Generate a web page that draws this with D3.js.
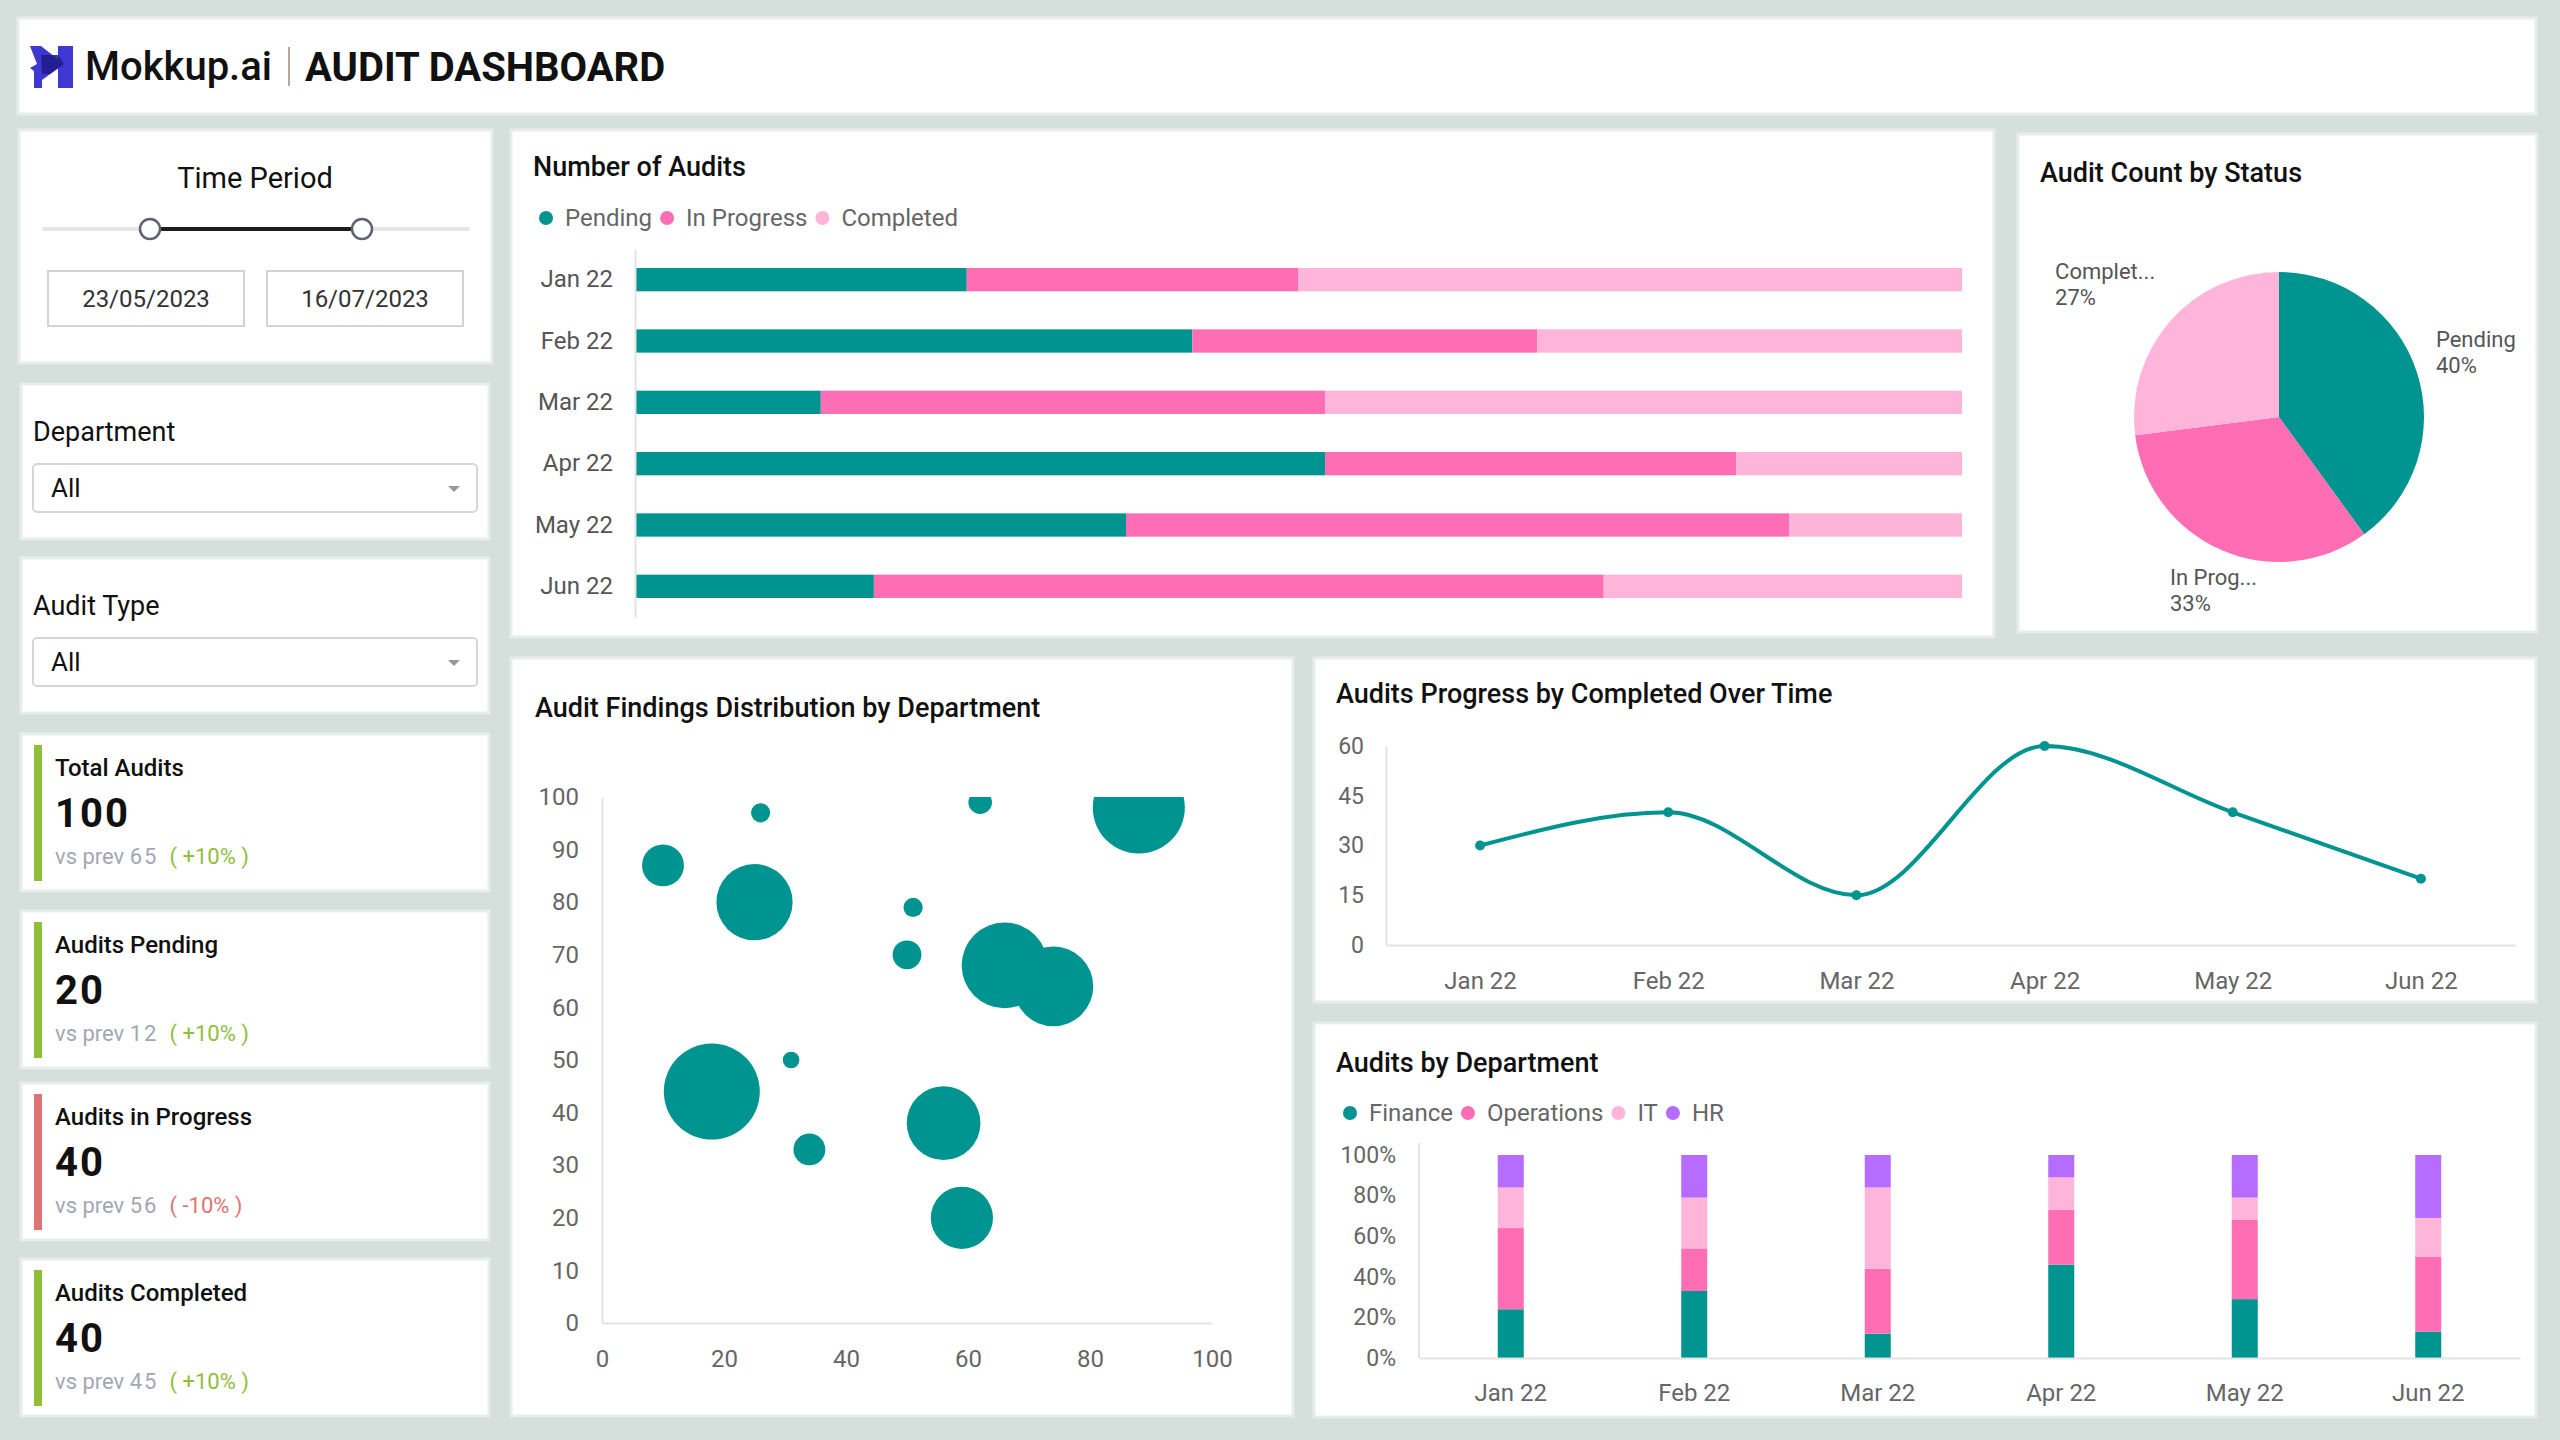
<!DOCTYPE html>
<html>
<head>
<meta charset="utf-8">
<script src="https://cdn.jsdelivr.net/npm/d3@7"></script>
<style>
  body { margin: 0; background: #d5e0dc; font-family: Roboto, sans-serif; }
  svg { display: block; }
</style>
</head>
<body>
<svg id="dash" width="2560" height="1440"></svg>
<script>
// ---- data ----
var months = ['Jan 22', 'Feb 22', 'Mar 22', 'Apr 22', 'May 22', 'Jun 22'];

var statusKeys = ['Pending', 'In Progress', 'Completed'];
var pendingShare = [25, 42, 14, 52, 37, 18];
var progressShare = [25, 26, 38, 31, 50, 55];
var completedShare = [50, 32, 48, 17, 13, 27];

var pieLabels = ['Pending', 'In Prog...', 'Complet...'];
var pieCounts = [40, 33, 27];

var findingsX = [10, 26, 25, 62, 88, 51, 50, 66, 74, 18, 31, 34, 56, 59];
var findingsY = [87, 97, 80, 99, 98, 79, 70, 68, 64, 44, 50, 33, 38, 20];
var findingsSize = [19, 4, 63, 6, 92, 4, 9, 80, 69, 100, 3, 11, 59, 42];

var completedTrend = [30, 40, 15, 60, 40, 20];

var deptKeys = ['Finance', 'Operations', 'IT', 'HR'];
var financeShare = [24, 33, 12, 46, 29, 13];
var operationsShare = [40, 21, 32, 27, 39, 37];
var itShare = [20, 25, 40, 16, 11, 19];
var hrShare = [16, 21, 16, 11, 21, 31];

var kpiTitles = ['Total Audits', 'Audits Pending', 'Audits in Progress', 'Audits Completed'];
var kpiValues = [100, 20, 40, 40];
var kpiPrev = [65, 12, 56, 45];
var kpiChange = ['+10%', '+10%', '-10%', '+10%'];

var periodStart = new Date(2023, 4, 23);
var periodEnd = new Date(2023, 6, 16);

// ---- colours ----
var teal = '#009490', hot = '#ff6db4', light = '#ffb5d9', purple = '#b56cff';
var green = '#8fbe3a', red = '#e07373';
var font = 'Roboto, sans-serif';

var svg = d3.select('#dash');
svg.append('rect').attr('width', 2560).attr('height', 1440).attr('fill', '#d5e0dc');

function panel(x, y, w, h) {
  svg.append('rect')
    .attr('x', x).attr('y', y).attr('width', w).attr('height', h)
    .attr('fill', '#fff').attr('stroke', '#e8ecea').attr('stroke-width', 3);
}
function title(x, y, t, size) {
  svg.append('text').attr('x', x).attr('y', y).text(t)
    .attr('font-family', font).attr('font-size', size || 27)
    .attr('font-weight', 500).attr('fill', '#111');
}
function styleAxis(g, size) {
  g.attr('font-size', size).attr('font-family', font);
  g.selectAll('.tick text').attr('fill', '#666');
  g.select('.domain').attr('stroke', '#e3e3e3').attr('stroke-width', 2);
}
function legend(x, y, keys, colors) {
  var cx = x;
  keys.forEach(function(k, i) {
    svg.append('circle').attr('cx', cx).attr('cy', y).attr('r', 7).attr('fill', colors[i]);
    var t = svg.append('text').attr('x', cx + 19).attr('y', y).attr('dy', '0.35em')
      .text(k).attr('font-family', font).attr('font-size', 24).attr('fill', '#666');
    cx = cx + 19 + t.node().getComputedTextLength() + 15;
  });
}

// ---- header ----
panel(18, 18, 2518, 96);
var logo = svg.append('g');
logo.append('path').attr('d', 'M30,46 L41,46 L64,64 L42,80 L42,88 L34,88 L34,71 L30,68 L37,64 Z').attr('fill', '#3e38d2');
logo.append('path').attr('d', 'M58,46 L73,46 L73,88 L58,88 Z').attr('fill', '#3e38d2');
logo.append('path').attr('d', 'M41,55 L58,55 L64,64 L50,74 L42,74 Z').attr('fill', '#1e1b86').attr('opacity', 0.85);
svg.append('text').attr('x', 85).attr('y', 80).text('Mokkup.ai')
  .attr('font-family', font).attr('font-size', 40).attr('font-weight', 500).attr('fill', '#111');
svg.append('line').attr('x1', 289).attr('x2', 289).attr('y1', 47).attr('y2', 86)
  .attr('stroke', '#a58a78').attr('stroke-width', 1.5);
svg.append('text').attr('x', 305).attr('y', 81).text('AUDIT DASHBOARD')
  .attr('font-family', font).attr('font-size', 40).attr('font-weight', 700).attr('fill', '#111');

// ---- time period ----
panel(19, 130, 473, 233);
svg.append('text').attr('x', 255).attr('y', 188).attr('text-anchor', 'middle').text('Time Period')
  .attr('font-family', font).attr('font-size', 29).attr('fill', '#111');
var timeX = d3.scaleTime().domain([new Date(2023, 3, 26), new Date(2023, 7, 12)]).range([44, 468]);
svg.append('line').attr('x1', timeX.range()[0]).attr('x2', timeX.range()[1]).attr('y1', 229).attr('y2', 229)
  .attr('stroke', '#e6e6e6').attr('stroke-width', 4).attr('stroke-linecap', 'round');
svg.append('line').attr('x1', timeX(periodStart)).attr('x2', timeX(periodEnd)).attr('y1', 229).attr('y2', 229)
  .attr('stroke', '#1d1d1d').attr('stroke-width', 4);
[periodStart, periodEnd].forEach(function(d, i) {
  svg.append('circle').attr('cx', timeX(d)).attr('cy', 229).attr('r', 10)
    .attr('fill', '#fff').attr('stroke', '#5b6272').attr('stroke-width', 2.5);
  var bx = i === 0 ? 48 : 267;
  svg.append('rect').attr('x', bx).attr('y', 271).attr('width', 196).attr('height', 55)
    .attr('fill', '#fff').attr('stroke', '#d3d3d3').attr('stroke-width', 2);
  svg.append('text').attr('x', bx + 98).attr('y', 307).attr('text-anchor', 'middle')
    .text(d3.timeFormat('%d/%m/%Y')(d))
    .attr('font-family', font).attr('font-size', 24).attr('fill', '#333');
});

// ---- filters ----
function dropdown(y0, label) {
  panel(21, y0, 468, 155);
  svg.append('text').attr('x', 33).attr('y', y0 + 57).text(label)
    .attr('font-family', font).attr('font-size', 27).attr('fill', '#111');
  svg.append('rect').attr('x', 33).attr('y', y0 + 80).attr('width', 444).attr('height', 48).attr('rx', 4)
    .attr('fill', '#fff').attr('stroke', '#d6d6d6').attr('stroke-width', 2);
  svg.append('text').attr('x', 51).attr('y', y0 + 113).text('All')
    .attr('font-family', font).attr('font-size', 26).attr('fill', '#111');
  svg.append('path').attr('d', 'M448,' + (y0 + 102) + ' L460,' + (y0 + 102) + ' L454,' + (y0 + 108) + ' Z')
    .attr('fill', '#999');
}
dropdown(384, 'Department');
dropdown(558, 'Audit Type');

// ---- KPI cards ----
var kpiTops = [734, 911, 1083, 1259];
kpiTitles.forEach(function(t, i) {
  var y0 = kpiTops[i];
  var up = kpiChange[i].charAt(0) === '+';
  panel(21, y0, 468, 157);
  svg.append('rect').attr('x', 34).attr('y', y0 + 11).attr('width', 8).attr('height', 136)
    .attr('fill', up ? green : red);
  svg.append('text').attr('x', 55).attr('y', y0 + 42).text(t)
    .attr('font-family', font).attr('font-size', 24).attr('font-weight', 500).attr('fill', '#111');
  svg.append('text').attr('x', 55).attr('y', y0 + 93).text(kpiValues[i])
    .attr('font-family', font).attr('font-size', 40).attr('font-weight', 700)
    .attr('letter-spacing', 2).attr('fill', '#111');
  var sub = svg.append('text').attr('x', 55).attr('y', y0 + 130)
    .attr('font-family', font).attr('font-size', 22);
  sub.append('tspan').attr('fill', '#a3a7b3').text('vs prev ');
  sub.append('tspan').attr('fill', '#a3a7b3').attr('letter-spacing', 2).text(kpiPrev[i]);
  sub.append('tspan').attr('dx', 11).attr('fill', up ? green : red).text('( ' + kpiChange[i] + ' )');
});

// ---- Number of Audits (100% stacked horizontal bars) ----
panel(511, 130, 1483, 507);
title(533, 176, 'Number of Audits');
legend(546, 218, statusKeys, [teal, hot, light]);

var statusRows = months.map(function(m, i) {
  return { month: m, 'Pending': pendingShare[i], 'In Progress': progressShare[i], 'Completed': completedShare[i] };
});
var stackH = d3.stack().keys(statusKeys).offset(d3.stackOffsetExpand)(statusRows);
var barX = d3.scaleLinear().domain([0, 1]).range([635, 1962]);
var barY = d3.scaleBand().domain(months).range([249, 617]).paddingInner(0.62).paddingOuter(0.31);
var statusColor = d3.scaleOrdinal().domain(statusKeys).range([teal, hot, light]);

svg.append('g').selectAll('g').data(stackH).enter().append('g')
  .attr('fill', function(d) { return statusColor(d.key); })
  .selectAll('rect').data(function(d) { return d; }).enter().append('rect')
  .attr('x', function(d) { return barX(d[0]); })
  .attr('width', function(d) { return barX(d[1]) - barX(d[0]); })
  .attr('y', function(d) { return barY(d.data.month); })
  .attr('height', barY.bandwidth());

var ga = svg.append('g').attr('transform', 'translate(635,0)')
  .call(d3.axisLeft(barY).tickSize(0).tickSizeOuter(0).tickPadding(22));
styleAxis(ga, 24);
ga.selectAll('.tick text').attr('fill', '#555');

// ---- Audit Count by Status (pie) ----
panel(2018, 134, 519, 498);
title(2040, 182, 'Audit Count by Status');
var pieCx = 2279, pieCy = 417, pieR = 145;
var pieColor = [teal, hot, light];
var pieTotal = d3.sum(pieCounts);
var pie = d3.pie().sort(null).value(function(d) { return d; });
var arc = d3.arc().innerRadius(0).outerRadius(pieR);
var pg = svg.append('g').attr('transform', 'translate(' + pieCx + ',' + pieCy + ')');
pg.selectAll('path').data(pie(pieCounts)).enter().append('path')
  .attr('d', arc).attr('fill', function(d, i) { return pieColor[i]; });
pg.selectAll('text').data(pie(pieCounts)).enter().append('text')
  .attr('font-family', font).attr('font-size', 22).attr('fill', '#555')
  .each(function(d, i) {
    var a = (d.startAngle + d.endAngle) / 2;
    var s = Math.sin(a);
    var x = 165 * s, y = -194 * Math.cos(a) - 6;
    var t = d3.select(this);
    var first = t.append('tspan').attr('y', y - 4).text(pieLabels[i]);
    var w = first.node().getComputedTextLength();
    var left = s > 0.5 ? x : (s < -0.5 ? x - w : x - w / 2);
    first.attr('x', left);
    t.append('tspan').attr('x', left).attr('y', y + 22).text(Math.round(d.value / pieTotal * 100) + '%');
  });

// ---- Audit Findings Distribution (bubbles) ----
panel(511, 658, 782, 758);
title(535, 717, 'Audit Findings Distribution by Department', 27);
var bx = d3.scaleLinear().domain([0, 100]).range([602, 1212]);
var by = d3.scaleLinear().domain([0, 100]).range([1323, 797]);
var br = d3.scaleSqrt().domain([0, 100]).range([0, 48]);
svg.append('clipPath').attr('id', 'bubbleClip').append('rect')
  .attr('x', bx(0)).attr('y', by(100)).attr('width', bx(100) - bx(0) + 60).attr('height', by(0) - by(100));
svg.append('g').attr('clip-path', 'url(#bubbleClip)').selectAll('circle')
  .data(findingsX).enter().append('circle')
  .attr('cx', function(d) { return bx(d); })
  .attr('cy', function(d, i) { return by(findingsY[i]); })
  .attr('r', function(d, i) { return br(findingsSize[i]); })
  .attr('fill', teal);
var bxa = svg.append('g').attr('transform', 'translate(0,' + by(0) + ')')
  .call(d3.axisBottom(bx).tickValues(d3.range(0, 101, 20)).tickSize(0).tickSizeOuter(0).tickPadding(27));
styleAxis(bxa, 24);
var bya = svg.append('g').attr('transform', 'translate(' + bx(0) + ',0)')
  .call(d3.axisLeft(by).tickValues(d3.range(0, 101, 10)).tickSize(0).tickSizeOuter(0).tickPadding(23));
styleAxis(bya, 24);

// ---- Audits Progress by Completed Over Time (line) ----
panel(1314, 658, 1222, 344);
title(1336, 703, 'Audits Progress by Completed Over Time');
var lx = d3.scalePoint().domain(months).range([1386, 2515]).padding(0.5);
var ly = d3.scaleLinear().domain([0, 60]).range([945, 746]);
var lxa = svg.append('g').attr('transform', 'translate(0,945)')
  .call(d3.axisBottom(lx).tickSize(0).tickSizeOuter(0).tickPadding(27));
styleAxis(lxa, 24);
var lya = svg.append('g').attr('transform', 'translate(1386,0)')
  .call(d3.axisLeft(ly).tickValues([0, 15, 30, 45, 60]).tickSize(0).tickSizeOuter(0).tickPadding(22));
styleAxis(lya, 23);
var line = d3.line()
  .x(function(d, i) { return lx(months[i]); })
  .y(function(d) { return ly(d); })
  .curve(d3.curveMonotoneX);
svg.append('path').datum(completedTrend).attr('d', line)
  .attr('fill', 'none').attr('stroke', teal).attr('stroke-width', 4);
svg.append('g').selectAll('circle').data(completedTrend).enter().append('circle')
  .attr('cx', function(d, i) { return lx(months[i]); })
  .attr('cy', function(d) { return ly(d); })
  .attr('r', 5).attr('fill', teal);

// ---- Audits by Department (100% stacked columns) ----
panel(1314, 1023, 1222, 394);
title(1336, 1072, 'Audits by Department');
var deptColors = [teal, hot, light, purple];
legend(1350, 1113, deptKeys, deptColors);
var deptRows = months.map(function(m, i) {
  return { month: m, Finance: financeShare[i], Operations: operationsShare[i], IT: itShare[i], HR: hrShare[i] };
});
var stackV = d3.stack().keys(deptKeys).offset(d3.stackOffsetExpand)(deptRows);
var dx = d3.scaleBand().domain(months).range([1419, 2520]);
var dy = d3.scaleLinear().domain([0, 1]).range([1358, 1155]);
var barW = 26;
svg.append('g').selectAll('g').data(stackV).enter().append('g')
  .attr('fill', function(d, i) { return deptColors[i]; })
  .selectAll('rect').data(function(d) { return d; }).enter().append('rect')
  .attr('x', function(d) { return dx(d.data.month) + dx.bandwidth() / 2 - barW / 2; })
  .attr('width', barW)
  .attr('y', function(d) { return dy(d[1]); })
  .attr('height', function(d) { return dy(d[0]) - dy(d[1]); });
var dxa = svg.append('g').attr('transform', 'translate(0,1358)')
  .call(d3.axisBottom(dx).tickSize(0).tickSizeOuter(0).tickPadding(26));
styleAxis(dxa, 24);
var dya = svg.append('g').attr('transform', 'translate(1419,0)')
  .call(d3.axisLeft(dy).tickValues(d3.range(0, 1.01, 0.2)).tickFormat(d3.format('.0%')).tickSize(0).tickSizeOuter(0).tickPadding(23));
styleAxis(dya, 23);
dya.select('.domain').attr('d', 'M0,1358V1143');
</script>
</body>
</html>
